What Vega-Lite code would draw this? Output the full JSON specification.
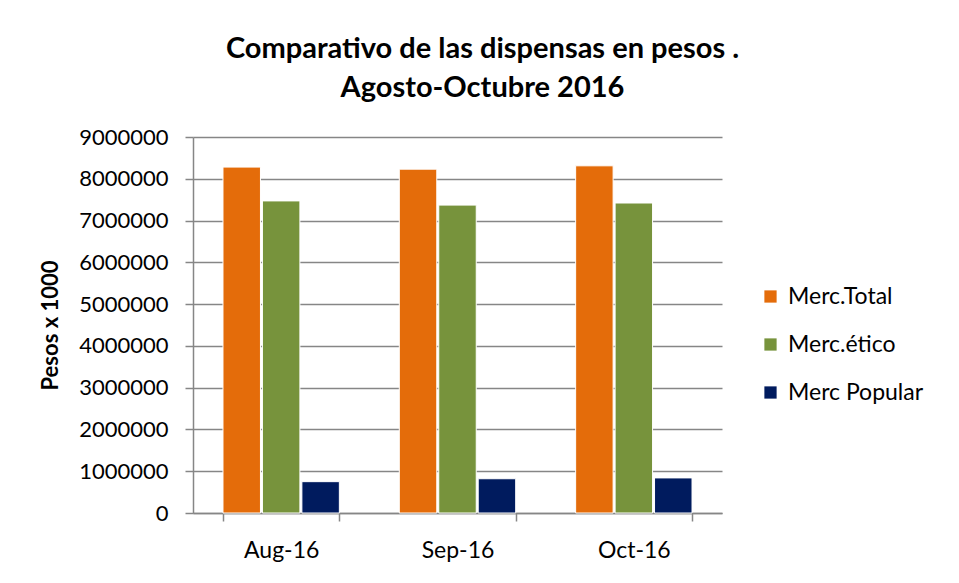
{
  "$schema": "https://vega.github.io/schema/vega-lite/v6.json",
  "width": 529,
  "height": 376,
  "autosize": {"type": "none"},
  "padding": {"left": 193, "top": 137, "right": 237, "bottom": 70},
  "background": "white",
  "title": {
    "text": ["Comparativo de las dispensas en pesos .", "Agosto-Octubre 2016"],
    "font": "Lato",
    "fontWeight": "bold",
    "fontSize": 29,
    "color": "#000000",
    "lineHeight": 39,
    "anchor": "middle",
    "dx": 25,
    "offset": 23
  },
  "data": {
    "values": [
      {"mes": "Aug-16", "serie": "Merc.Total", "valor": 8280000},
      {"mes": "Aug-16", "serie": "Merc.ético", "valor": 7470000},
      {"mes": "Aug-16", "serie": "Merc Popular", "valor": 750000},
      {"mes": "Sep-16", "serie": "Merc.Total", "valor": 8230000},
      {"mes": "Sep-16", "serie": "Merc.ético", "valor": 7370000},
      {"mes": "Sep-16", "serie": "Merc Popular", "valor": 820000},
      {"mes": "Oct-16", "serie": "Merc.Total", "valor": 8310000},
      {"mes": "Oct-16", "serie": "Merc.ético", "valor": 7420000},
      {"mes": "Oct-16", "serie": "Merc Popular", "valor": 840000}
    ]
  },
  "mark": {"type": "bar", "stroke": "white", "strokeWidth": 1},
  "encoding": {
    "x": {
      "field": "mes",
      "type": "nominal",
      "sort": ["Aug-16", "Sep-16", "Oct-16"],
      "scale": {"paddingInner": 0.34, "paddingOuter": 0.17},
      "axis": {
        "title": null,
        "labelAngle": 0,
        "labelFont": "Lato",
        "labelFontSize": 23,
        "labelColor": "#000000",
        "labelPadding": 18,
        "tickBand": "extent",
        "tickSize": 8,
        "tickColor": "#868686",
        "tickWidth": 1.5,
        "domainColor": "#868686",
        "domainWidth": 1.5,
        "grid": false
      }
    },
    "xOffset": {
      "field": "serie",
      "type": "nominal",
      "sort": ["Merc.Total", "Merc.ético", "Merc Popular"],
      "scale": {"paddingInner": 0.05}
    },
    "y": {
      "field": "valor",
      "type": "quantitative",
      "scale": {"domain": [0, 9000000], "nice": false},
      "axis": {
        "title": "Pesos x 1000",
        "titleFont": "Lato",
        "titleFontWeight": "bold",
        "titleFontSize": 22,
        "titleColor": "#000000",
        "titlePadding": 16,
        "values": [0, 1000000, 2000000, 3000000, 4000000, 5000000, 6000000, 7000000, 8000000, 9000000],
        "format": "d",
        "labelFont": "Lato",
        "labelFontSize": 22,
        "labelColor": "#000000",
        "labelPadding": 17,
        "tickSize": 8,
        "tickColor": "#868686",
        "tickWidth": 1.5,
        "domainColor": "#868686",
        "domainWidth": 1.5,
        "grid": true,
        "gridColor": "#868686",
        "gridWidth": 1.5
      }
    },
    "color": {
      "field": "serie",
      "type": "nominal",
      "sort": ["Merc.Total", "Merc.ético", "Merc Popular"],
      "scale": {
        "domain": ["Merc.Total", "Merc.ético", "Merc Popular"],
        "range": ["#E46C0A", "#77933C", "#001B5E"]
      },
      "legend": {
        "title": null,
        "orient": "none",
        "legendX": 566,
        "legendY": 148,
        "symbolType": "square",
        "symbolSize": 150,
        "symbolStrokeWidth": 0,
        "labelFont": "Lato",
        "labelFontSize": 23,
        "labelColor": "#000000",
        "labelOffset": 6,
        "rowPadding": 24
      }
    }
  },
  "config": {
    "view": {"stroke": null}
  }
}
